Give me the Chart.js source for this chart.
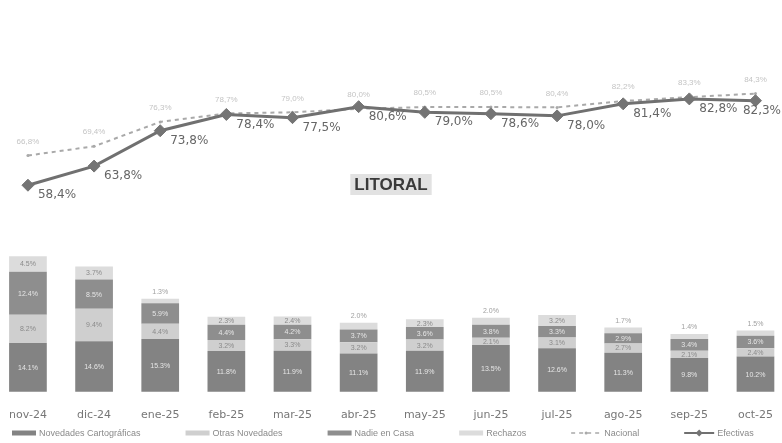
<!DOCTYPE html>
<html>
<head>
<meta charset="utf-8">
<script src="https://cdn.jsdelivr.net/npm/chart.js@4.4.0/dist/chart.umd.min.js"></script>
<style>
  html, body { margin: 0; padding: 0; background: #fff; }
  #wrap { width: 782px; height: 443px; }
</style>
</head>
<body>
<div id="wrap"><canvas id="myChart"></canvas></div>
<script>
// datos
const meses = ['nov-24', 'dic-24', 'ene-25', 'feb-25', 'mar-25', 'abr-25', 'may-25', 'jun-25', 'jul-25', 'ago-25', 'sep-25', 'oct-25'];
const novCartograficas = [14.1, 14.6, 15.3, 11.8, 11.9, 11.1, 11.9, 13.5, 12.6, 11.3, 9.8, 10.2];
const otrasNovedades = [8.2, 9.4, 4.4, 3.2, 3.3, 3.2, 3.2, 2.1, 3.1, 2.7, 2.1, 2.4];
const nadieEnCasa = [12.4, 8.5, 5.9, 4.4, 4.2, 3.7, 3.6, 3.8, 3.3, 2.9, 3.4, 3.6];
const rechazos = [4.5, 3.7, 1.3, 2.3, 2.4, 2.0, 2.3, 2.0, 3.2, 1.7, 1.4, 1.5];
const nacional = [66.8, 69.4, 76.3, 78.7, 79.0, 80.0, 80.5, 80.5, 80.4, 82.2, 83.3, 84.3];
const efectivas = [58.4, 63.8, 73.8, 78.4, 77.5, 80.6, 79.0, 78.6, 78.0, 81.4, 82.8, 82.3];

const pct = (v) => v.toFixed(1).replace('.', ',') + '%';

// etiquetas de valores, titulo y leyenda
const etiquetas = {
  id: 'etiquetas',
  afterDatasetsDraw(chart) {
    const ctx = chart.ctx;
    ctx.save();
    chart.data.datasets.forEach((ds, di) => {
      const meta = chart.getDatasetMeta(di);
      meta.data.forEach((el, i) => {
        const v = ds.data[i];
        if (ds.type === 'bar') {
          const p = el.getProps(['x', 'y', 'base'], true);
          ctx.font = '7px "Liberation Sans"';
          ctx.textAlign = 'center';
          if (p.base - p.y >= 7) {
            ctx.fillStyle = ds.labelColor;
            ctx.textBaseline = 'middle';
            ctx.fillText(v.toFixed(1) + '%', p.x, (p.y + p.base) / 2 + 0.5);
          } else {
            ctx.fillStyle = '#a0a0a0';
            ctx.textBaseline = 'bottom';
            ctx.fillText(v.toFixed(1) + '%', p.x, p.y - 3);
          }
        } else if (ds.label === 'Efectivas') {
          ctx.font = '12px "DejaVu Sans"';
          ctx.fillStyle = '#666';
          ctx.textAlign = 'left';
          ctx.textBaseline = 'middle';
          const t = pct(v);
          const w = ctx.measureText(t).width;
          const x = Math.min(el.x + 10, chart.width - w - 1);
          ctx.fillText(t, x, el.y + 10);
        } else {
          ctx.font = '8px "Liberation Sans"';
          ctx.fillStyle = '#c4c4c4';
          ctx.textAlign = 'center';
          ctx.textBaseline = 'middle';
          ctx.fillText(pct(v), el.x, el.y - 14);
        }
      });
    });
    ctx.restore();
  },
  afterDraw(chart) {
    const ctx = chart.ctx;
    ctx.save();
    // titulo
    ctx.font = 'bold 17px "Liberation Sans Narrow", "Liberation Sans"';
    const titulo = 'LITORAL';
    const tw = ctx.measureText(titulo).width;
    const cx = chart.width / 2;
    ctx.fillStyle = '#e2e2e2';
    ctx.fillRect(cx - tw / 2 - 4, 174, tw + 8, 21);
    ctx.fillStyle = '#3a3a3a';
    ctx.textAlign = 'center';
    ctx.textBaseline = 'middle';
    ctx.fillText(titulo, cx, 185);

    // leyenda
    ctx.font = '9px "Liberation Sans"';
    ctx.textAlign = 'left';
    let x = 12;
    const y = 433;
    chart.data.datasets.forEach((ds) => {
      if (ds.type === 'bar') {
        ctx.fillStyle = ds.backgroundColor;
        ctx.fillRect(x, y - 2.5, 24, 5);
        x += 27;
      } else {
        ctx.strokeStyle = ds.borderColor;
        ctx.lineWidth = ds.label === 'Efectivas' ? 2 : 1.5;
        ctx.setLineDash(ds.borderDash || []);
        ctx.beginPath();
        ctx.moveTo(x, y);
        ctx.lineTo(x + 30, y);
        ctx.stroke();
        ctx.setLineDash([]);
        ctx.fillStyle = ds.pointBackgroundColor;
        ctx.beginPath();
        if (ds.label === 'Efectivas') {
          ctx.moveTo(x + 15, y - 3.5);
          ctx.lineTo(x + 18.5, y);
          ctx.lineTo(x + 15, y + 3.5);
          ctx.lineTo(x + 11.5, y);
        } else {
          ctx.arc(x + 15, y, 1.5, 0, Math.PI * 2);
        }
        ctx.fill();
        x += 33;
      }
      ctx.fillStyle = '#8a8a8a';
      ctx.fillText(ds.label, x, y + 0.5);
      x += ctx.measureText(ds.label).width + 45;
    });
    ctx.restore();
  }
};

const ctx = document.getElementById('myChart');

const myChart = new Chart(ctx, {
  data: {
    labels: meses,
    datasets: [
      { type: 'bar', label: 'Novedades Cartográficas', data: novCartograficas, backgroundColor: '#838383', labelColor: '#e6e6e6', yAxisID: 'yBar', stack: 's', clip: false, order: 2 },
      { type: 'bar', label: 'Otras Novedades', data: otrasNovedades, backgroundColor: '#cfcfcf', labelColor: '#8a8a8a', yAxisID: 'yBar', stack: 's', clip: false, order: 2 },
      { type: 'bar', label: 'Nadie en Casa', data: nadieEnCasa, backgroundColor: '#8e8e8e', labelColor: '#e6e6e6', yAxisID: 'yBar', stack: 's', clip: false, order: 2 },
      { type: 'bar', label: 'Rechazos', data: rechazos, backgroundColor: '#dcdcdc', labelColor: '#8a8a8a', yAxisID: 'yBar', stack: 's', clip: false, order: 2 },
      {
        type: 'line', label: 'Nacional', data: nacional, yAxisID: 'yLine',
        borderColor: '#a9a9a9', borderWidth: 2, borderDash: [4, 4],
        pointRadius: 1.5, pointBackgroundColor: '#a9a9a9', pointBorderWidth: 0,
        tension: 0, clip: false, order: 1
      },
      {
        type: 'line', label: 'Efectivas', data: efectivas, yAxisID: 'yLine',
        borderColor: '#707070', borderWidth: 3,
        pointStyle: 'rectRot', pointRadius: 6, pointBackgroundColor: '#747474', pointBorderColor: '#747474', pointBorderWidth: 1,
        tension: 0, clip: false, order: 0
      }
    ]
  },
  options: {
    responsive: true,
    maintainAspectRatio: false,
    animation: false,
    devicePixelRatio: 1,
    layout: { padding: { top: 20, left: 21, right: 9, bottom: 12 } },
    datasets: { bar: { barPercentage: 0.57, categoryPercentage: 1 } },
    scales: {
      x: {
        stacked: true,
        offset: false,
        grid: { display: false },
        border: { display: false },
        ticks: { color: '#777', font: { family: 'DejaVu Sans', size: 11 }, padding: 9, maxRotation: 0, autoSkip: false }
      },
      yBar: { stacked: true, display: false, min: 0, max: 107.5 },
      yLine: { display: false, min: 0, max: 105.1 }
    },
    plugins: {
      legend: { display: false },
      tooltip: { enabled: false }
    }
  },
  plugins: [etiquetas]
});
</script>
</body>
</html>
